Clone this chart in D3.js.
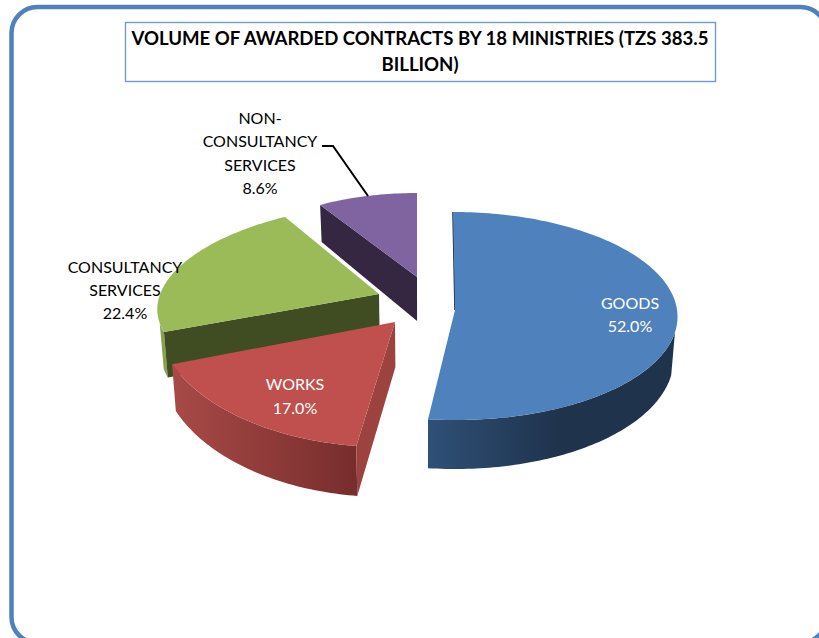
<!DOCTYPE html>
<html>
<head>
<meta charset="utf-8">
<style>
  html, body { margin: 0; padding: 0; background: #fff; overflow: hidden; }
  text { font-family: Lato, "Noto Sans", sans-serif; }
</style>
<script src="https://cdn.jsdelivr.net/npm/d3@7"></script>
</head>
<body>
<svg id="chart" width="819" height="638"></svg>
<script>
// Contract volume per procurement category, in percent of the total.
const categories = ["GOODS", "WORKS", "CONSULTANCY SERVICES", "NON-CONSULTANCY SERVICES"];
const shares = [52.0, 17.0, 22.4, 8.6];
const titleLines = ["VOLUME OF AWARDED CONTRACTS BY 18 MINISTRIES (TZS 383.5", "BILLION)"];

// Colours for the top face, cut face and outer wall of each slice.
const topColors = ["#4f81bd", "#c0504d", "#9bbb59", "#8064a2"];
const cutColors = ["#1f334d", "#9c4340", "#404c22", "#352641"];
const wallStops = [["#2f5077", "#1f334d"], ["#a84a47", "#772d2d"], ["#86a24c", "#86a24c"], ["#352641", "#352641"]];

// Apex of each pulled-out slice and the tilted ellipse its rim follows.
const apexX = [455, 395, 379, 417];
const apexY = [310, 322, 294, 277];
const rimX = [454.5, 385, 371, 423];
const rimY = [316, 316, 297.5, 277];
const radiusX = [223, 229, 212, 190];
const radiusY = [104, 131, 94, 84];
const rimSkew = [1.5, 0, -27, 6];

// Pie thickness on screen: constant part plus growth toward the viewer.
const depthBase = [42, 45, 44, 44];
const depthFront = [7, 5, 4, 8];
const vanishX = 422;

// Angular range, in degrees, over which each curved wall shows.
const wallFrom = [99, 90, 90, 90];
const wallTo = [270, 270, 254, 270];

const svg = d3.select("#chart");
const defs = svg.append("defs");
const rad = d => d * Math.PI / 180;

// Screen position of a point on the top rim of slice i at pie angle a.
function rim(i, a) {
  const forward = -Math.cos(a);
  return [
    rimX[i] + radiusX[i] * Math.sin(a) + rimSkew[i] * forward,
    rimY[i] + radiusY[i] * forward
  ];
}

// Drops a top-face point to the lower edge of the pie's thickness.
function drop(i, p, forward) {
  return [vanishX + (p[0] - vanishX) * 0.985, p[1] + depthBase[i] + depthFront[i] * forward];
}

const line = d3.line();
const pieLayout = d3.pie().sort(null).value(d => d);
const arcs = pieLayout(shares);

function rimPoints(i, a0, a1) {
  const n = Math.max(2, Math.ceil(Math.abs(a1 - a0) / 0.02));
  return d3.range(n + 1).map(k => rim(i, a0 + (a1 - a0) * k / n));
}

// Back slices first, so nearer slices overlap them.
const order = [3, 2, 1, 0];
const chart = svg.append("g");

order.forEach(i => {
  const a0 = arcs[i].startAngle, a1 = arcs[i].endAngle;
  const apex = [apexX[i], apexY[i]];
  const g = chart.append("g").attr("class", "slice");

  // Curved outer wall: only the part of the rim facing the viewer.
  const w0 = Math.max(a0, rad(wallFrom[i])), w1 = Math.min(a1, rad(wallTo[i]));
  if (w1 > w0) {
    const top = rimPoints(i, w0, w1);
    const bottom = top.map((p, k) => drop(i, p, -Math.cos(w0 + (w1 - w0) * k / (top.length - 1)))).reverse();
    const xs = d3.extent(top, p => p[0]);
    const grad = defs.append("linearGradient")
      .attr("id", "wall" + i).attr("gradientUnits", "userSpaceOnUse")
      .attr("x1", xs[0]).attr("x2", i === 0 ? xs[0] + 130 : xs[1]).attr("y1", 0).attr("y2", 0);
    grad.append("stop").attr("offset", 0).attr("stop-color", wallStops[i][0]);
    grad.append("stop").attr("offset", 1).attr("stop-color", wallStops[i][1]);
    g.append("path").attr("d", line(top.concat(bottom)) + "Z").attr("fill", `url(#wall${i})`);
  }

  // Flat face exposed at the slice's starting edge; on the first slice it is seen edge-on.
  const edge = rim(i, a0);
  if (i === 0) {
    g.append("path").attr("d", line([edge, apex]))
      .attr("fill", "none").attr("stroke", cutColors[i]).attr("stroke-width", 1.6);
  } else {
    const quad = [apex, edge, drop(i, edge, -Math.cos(a0)), drop(i, apex, 0)];
    g.append("path").attr("d", line(quad) + "Z").attr("fill", cutColors[i]);
  }

  // Top face.
  const outline = [apex].concat(rimPoints(i, a0, a1));
  g.append("path").attr("d", line(outline) + "Z").attr("fill", topColors[i]);
});

// Chart frame and title box.
svg.append("rect")
  .attr("x", 11.5).attr("y", 7).attr("width", 815).attr("height", 636)
  .attr("rx", 26).attr("ry", 26)
  .attr("fill", "none").attr("stroke", "#4f81bd").attr("stroke-width", 4.5);

svg.append("rect")
  .attr("x", 125.5).attr("y", 22.5).attr("width", 590).attr("height", 59)
  .attr("fill", "#fff").attr("stroke", "#6f9bd1").attr("stroke-width", 1.4);

svg.selectAll("text.title").data(titleLines).join("text")
  .attr("class", "title")
  .attr("x", 420).attr("y", (d, k) => 45 + k * 25.5)
  .attr("text-anchor", "middle")
  .attr("font-size", 18.6).attr("font-weight", 700).attr("fill", "#000")
  .text(d => d);

// Data labels: wrapped category name above the percentage.
const labelLines = [["GOODS"], ["WORKS"], ["CONSULTANCY", "SERVICES"], ["NON-", "CONSULTANCY", "SERVICES"]];
const labelX = [630, 295, 125, 260];
const labelBase = [308.5, 390, 273, 124];
const labelStep = [23.5, 24, 23, 23.3];
const labelColor = ["#fff", "#fff", "#000", "#000"];

categories.forEach((c, i) => {
  const lines = labelLines[i].concat(d3.format(".1f")(shares[i]) + "%");
  svg.append("g").selectAll("text").data(lines).join("text")
    .attr("x", labelX[i])
    .attr("y", (d, k) => labelBase[i] + k * labelStep[i])
    .attr("text-anchor", "middle")
    .attr("font-size", 16)
    .attr("fill", labelColor[i])
    .text(d => d);
});

// Leader line from the smallest slice to its label.
svg.append("path")
  .attr("d", line([[322, 146], [333, 146], [368, 196]]))
  .attr("fill", "none").attr("stroke", "#000").attr("stroke-width", 2);
</script>
</body>
</html>
